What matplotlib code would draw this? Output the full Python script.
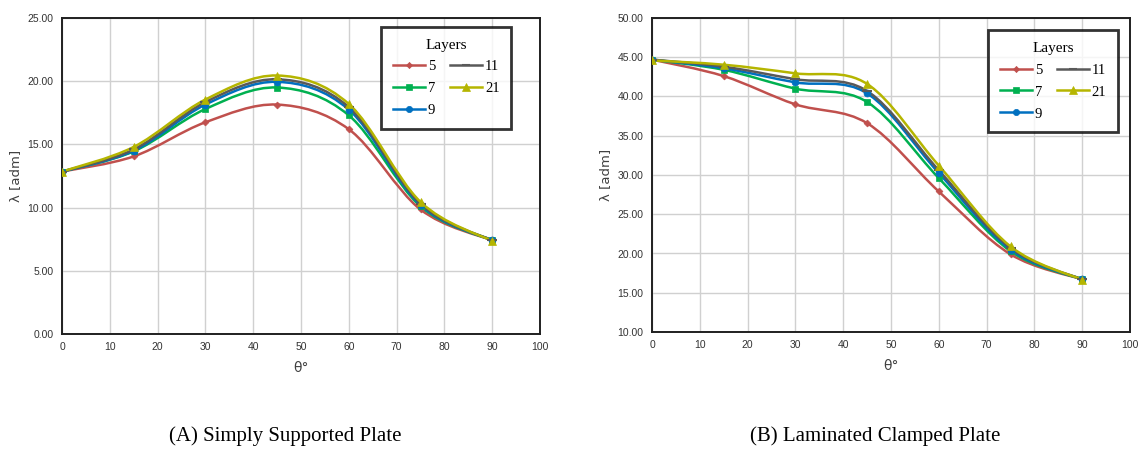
import matplotlib
matplotlib.use("Agg")
import matplotlib.pyplot as plt
import numpy as np
from matplotlib.path import Path
from matplotlib.patches import PathPatch
from matplotlib.lines import Line2D

# angles (deg)
theta = [0, 15, 30, 45, 60, 75, 90]
layers = ['5', '7', '9', '11', '21']

# (A) simply supported plate
ss_5 = [12.85, 14.05, 16.75, 18.15, 16.20, 9.85, 7.40]
ss_7 = [12.85, 14.45, 17.80, 19.50, 17.30, 10.10, 7.40]
ss_9 = [12.85, 14.50, 18.15, 19.95, 17.75, 10.20, 7.40]
ss_11 = [12.85, 14.60, 18.35, 20.15, 17.95, 10.30, 7.40]
ss_21 = [12.85, 14.80, 18.55, 20.45, 18.20, 10.45, 7.35]

# (B) laminated clamped plate
cl_5 = [44.70, 42.60, 39.00, 36.60, 27.90, 19.90, 16.70]
cl_7 = [44.70, 43.40, 41.00, 39.30, 29.60, 20.30, 16.70]
cl_9 = [44.70, 43.60, 41.80, 40.40, 30.25, 20.50, 16.70]
cl_11 = [44.70, 43.80, 42.20, 40.70, 30.60, 20.70, 16.70]
cl_21 = [44.60, 44.05, 42.95, 41.60, 31.20, 20.90, 16.65]

colors = ['#C0504D', '#00B050', '#0070C0', '#595959', '#B5B500']
markers = ['D', 's', 'o', '_', '^']
msizes = [3.5, 5, 5, 7, 6]

SERIF = 'Liberation Serif'
TICKFONT = 'Liberation Sans'


def smooth_path(xs, ys):
  # Excel-style smoothed line: cubic bezier between points
  pts = np.column_stack([xs, ys]).astype(float)
  ext = np.vstack([pts[0], pts, pts[-1]])
  verts = [pts[0]]
  codes = [Path.MOVETO]
  for i in range(1, len(ext) - 2):
    p0, p1, p2, p3 = ext[i - 1], ext[i], ext[i + 1], ext[i + 2]
    c1 = p1 + (p2 - p0) / 6.0
    c2 = p2 - (p3 - p1) / 6.0
    verts += [c1, c2, p2]
    codes += [Path.CURVE4] * 3
  return Path(verts, codes)


def panel(ax, series, ylim, leg_anchor):
  for vals, col, mk, ms in zip(series, colors, markers, msizes):
    ax.add_patch(PathPatch(smooth_path(theta, vals), facecolor='none',
                           edgecolor=col, linewidth=1.8, zorder=3))
    ax.plot(theta, vals, linestyle='none', marker=mk, markersize=ms,
            color=col, markeredgewidth=1.5 if mk == '_' else 0.5, zorder=4)

  yt = np.arange(ylim[0], ylim[1] + 0.1, 5)
  ax.set_xlim(0, 100)
  ax.set_ylim(*ylim)
  ax.set_xticks(np.arange(0, 101, 10))
  ax.set_yticks(yt)
  ax.set_yticklabels([f'{v:.2f}' for v in yt])
  ax.grid(color='#D0D0D0', linewidth=1.0, zorder=0)
  ax.set_axisbelow(True)
  for sp in ax.spines.values():
    sp.set_linewidth(1.4)
    sp.set_color('#202020')
  ax.tick_params(length=0, labelsize=7.5, pad=6, colors='#333333')
  for lab in ax.get_xticklabels() + ax.get_yticklabels():
    lab.set_fontfamily(TICKFONT)
  ax.set_xlabel('θ°', fontsize=10, color='#404040', labelpad=6)
  ax.set_ylabel('λ [adm]', fontsize=9.5, color='#404040', labelpad=4)

  handles = [Line2D([], [], color=c, marker=m, markersize=s * 0.9, linewidth=1.8,
                    markeredgewidth=1.5 if m == '_' else 0.5)
             for c, m, s in zip(colors, markers, msizes)]
  leg = ax.legend(handles, layers, ncol=2, title='Layers', loc='upper right',
                  bbox_to_anchor=leg_anchor, frameon=True, fancybox=False,
                  handlelength=2.2, handletextpad=0.2, columnspacing=1.0,
                  labelspacing=0.6, borderpad=0.8,
                  prop={'family': SERIF, 'size': 10.5},
                  title_fontproperties={'family': SERIF, 'size': 11})
  leg.get_frame().set_edgecolor('black')
  leg.get_frame().set_linewidth(2.0)
  leg.set_zorder(6)


fig = plt.figure(figsize=(11.42, 4.50), dpi=100)
ax1 = fig.add_axes([62 / 1142, 1 - 334 / 450, 478 / 1142, 316 / 450])
ax2 = fig.add_axes([652 / 1142, 1 - 332 / 450, 478 / 1142, 314 / 450])

panel(ax1, [ss_5, ss_7, ss_9, ss_11, ss_21], (0, 25), (0.955, 0.995))
panel(ax2, [cl_5, cl_7, cl_9, cl_11, cl_21], (10, 50), (0.99, 0.985))

fig.text(285 / 1142, 1 - 436 / 450, '(A) Simply Supported Plate', ha='center',
         va='center', fontsize=15, family=SERIF)
fig.text(875 / 1142, 1 - 436 / 450, '(B) Laminated Clamped Plate', ha='center',
         va='center', fontsize=15, family=SERIF)

fig.savefig('out.png', dpi=100)
plt.close(fig)
